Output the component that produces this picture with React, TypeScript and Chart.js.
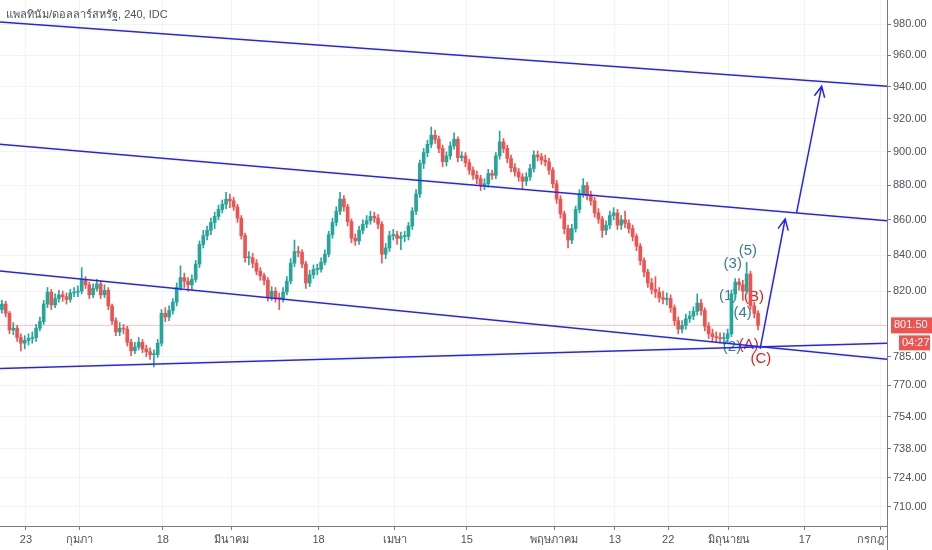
import React, { useEffect, useRef } from 'react';
import { Chart, registerables } from 'chart.js';

Chart.register(...registerables);

// 4h candles, two per trading day
const TITLE = 'แพลทินัม/ดอลลาร์สหรัฐ, 240, IDC';
const FIRST_OPEN = 810;
const FIRST_CANDLE_DAY = -3.17;
const CANDLE_STEP = 0.5;

const CLOSES = [
  813, 808, 799, 800, 795, 792, 793.5, 794.5, 795, 800,
  803.5, 813, 819.5, 812.5, 816, 818, 817, 815.5, 819, 819.5,
  820, 826.5, 823.5, 818, 821.5, 824, 818, 820.5, 812, 804,
  798, 800, 799.5, 792.5, 788, 790, 792.5, 789, 787.5, 786,
  786, 792, 808, 806, 809.5, 814, 822, 827.5, 825.5, 823.5,
  826.5, 835, 846, 851, 854, 858.5, 862, 866, 869, 872,
  871, 867.5, 861, 851, 838.5, 838.5, 835.5, 831, 828.5, 826,
  817, 820, 816.5, 816, 819.5, 825.5, 835.5, 842, 841.5, 835,
  824.5, 829, 832, 832, 836, 840.5, 851.5, 858.5, 865, 872,
  867.5, 859, 849.5, 848, 854, 857.5, 859.5, 862, 861, 857.5,
  840.5, 844, 851, 851.5, 849.5, 850.5, 850.5, 856.5, 865, 875,
  893, 899.5, 904.5, 910, 907.5, 902, 894, 897.5, 903.5, 907.5,
  896.5, 897.5, 893.5, 889, 886, 884, 880, 881, 887, 886,
  897.5, 906, 902, 896, 890.5, 888, 885, 882.5, 885, 890,
  898, 897, 895, 894, 889, 881, 872, 863.5, 855, 848.5,
  855, 866, 875, 880, 874, 871, 864, 860.5, 854, 857,
  862.5, 864, 857, 860, 858, 855, 850.5, 845, 837, 830.5,
  824.5, 821, 819.5, 816.5, 815.5, 816, 811, 804, 799.5, 801.5,
  805, 806.5, 809, 813.5, 809.5, 801, 797, 795.5, 795, 794.5,
  794.5, 797, 818.5, 825, 823.5, 820, 829.5, 812, 808, 801.5,
];

const HIGHS = [
  815, 814.5, 809, 803, 801.5, 797, 796, 797, 798, 802,
  806, 815, 822, 821, 818.5, 820.5, 820, 819, 821, 822,
  823, 833, 828, 825, 824, 826.5, 825.5, 823.5, 822, 813,
  805.5, 803, 802, 801, 794, 792.5, 795, 794, 791, 789.5,
  788.5, 794, 810, 811, 812, 816, 824.5, 834, 830, 827.5,
  829, 837, 848, 854, 856.5, 861, 864.5, 868.5, 871.5, 876,
  875, 873, 869, 862.5, 852.5, 842, 841, 837.5, 833, 830,
  827.5, 822.5, 822, 819, 822, 828, 838, 848.5, 845, 843,
  836.5, 831.5, 834.5, 835, 838.5, 843, 853.5, 861, 867.5, 876,
  874, 869, 860.5, 852, 856.5, 860, 862.5, 865, 864.5, 863,
  859, 846.5, 853.5, 854.5, 853.5, 853, 853.5, 858.5, 867, 877.5,
  895, 902, 907, 915, 913, 909.5, 904, 900, 906, 911.5,
  909, 900, 899.5, 895.5, 891, 888.5, 886, 884, 889.5, 889,
  899.5, 912.5, 908, 904, 898, 893, 890, 887, 887.5, 892.5,
  900.5, 900.5, 899, 898, 896, 890.5, 883, 874, 865, 857,
  857.5, 868, 877.5, 884, 882, 876.5, 873, 866.5, 862, 859.5,
  865, 867, 866, 862.5, 865, 860, 857, 852, 846.5, 838.5,
  832, 827, 828, 822, 820, 819, 818, 812.5, 806, 804,
  807.5, 809, 811.5, 818.5, 815.5, 811, 803, 799.5, 798, 797.5,
  797.5, 799.5, 820.5, 827, 827, 826, 836, 831, 814, 809.5,
];

const LOWS = [
  808, 806, 797, 796.5, 793, 788, 789, 791, 792, 793,
  798.5, 802, 811, 810, 811, 814, 814.5, 813, 814, 817,
  817, 818.5, 821.5, 816, 816.5, 820, 816, 816.5, 810, 802,
  796, 796, 797, 790.5, 785.5, 786.5, 788.5, 787, 785, 783.5,
  779.5, 784.5, 790.5, 803.5, 804, 807.5, 812, 820.5, 822, 820,
  821, 825, 833, 844, 848.5, 851.5, 855, 860, 864, 866.5,
  867, 865.5, 858.5, 849, 836, 834.5, 833, 829, 826, 823.5,
  814.5, 815, 814, 810, 814, 818, 824, 833.5, 839, 833,
  821.5, 822.5, 827, 829, 830.5, 834.5, 839, 849.5, 856.5, 863,
  865, 856.5, 847, 845.5, 846, 852, 855.5, 857.5, 858.5, 855,
  835.5, 838, 842, 848.5, 846, 843, 847.5, 848.5, 854.5, 863,
  873, 890, 897, 902.5, 905, 899.5, 891, 891.5, 895.5, 901.5,
  894, 894.5, 891, 886.5, 883.5, 881, 877, 877.5, 879, 883.5,
  884, 895.5, 899.5, 893.5, 888, 885.5, 882.5, 878, 880, 883,
  888, 894.5, 892.5, 891.5, 886.5, 878.5, 869.5, 861, 852, 844,
  846.5, 853, 864, 873, 871.5, 868.5, 861.5, 858, 850, 851.5,
  855, 860, 854.5, 854.5, 855.5, 852.5, 848, 842.5, 834.5, 828,
  822, 818.5, 816.5, 814, 813, 812.5, 808.5, 801.5, 797, 797.5,
  799.5, 803, 804.5, 807, 807, 798.5, 794.5, 793, 792.5, 792,
  791.5, 792, 795.5, 816, 820.5, 815, 818.5, 810, 805.5, 799,
];

// x axis in trading days from 23 Jan
const DATE_TICKS = [0, 7, 18, 27, 38.5, 48.5, 58, 69.5, 77.5, 84.5, 92.5, 102.5, 112.5];
const DATE_LABELS = ['23', 'กุมภา', '18', 'มีนาคม', '18', 'เมษา', '15', 'พฤษภาคม', '13', '22', 'มิถุนายน', '17', 'กรกฎาคม'];
const PRICE_TICKS = [710, 724, 738, 754, 770, 785, 820, 840, 860, 880, 900, 920, 940, 960, 980];
const X_MIN = -3.42;
const X_MAX = 113.3;
const Y_MIN = 701;
const Y_MAX = 996;

// trend lines: price at left edge, price at right edge
const CHANNEL_TOP = [981.5, 940.3];
const CHANNEL_MID = [904.6, 859.5];
const CHANNEL_LOW = [831.2, 783.5];
const SUPPORT = [778.7, 792];

const LAST_PRICE = 801.5;
const COUNTDOWN = '04:27';

// arrows: [day, price] from -> to
const ARROWS = [
  [[96.6, 789], [99.9, 860.5]],
  [[101.4, 864], [104.7, 940.3]],
];

// wave counts: [text, day, price]
const IMPULSE_LABELS: [string, number, number][] = [
  ['(1)', 92.4, 817.5],
  ['(2)', 92.9, 790],
  ['(3)', 93.0, 835],
  ['(4)', 94.3, 808],
  ['(5)', 95.0, 842.5],
];
const CORRECTION_LABELS: [string, number, number][] = [
  ['(A)', 95.1, 791],
  ['(B)', 95.8, 817],
  ['(C)', 96.7, 784],
];

const UP = '#26a69a';
const DOWN = '#ef5350';
const BLUE = '#2222ff';
const AXIS = '#787b86';
const TEXT = '#4c525e';
const GRID = '#f0f3fa';
const FONT = "'Liberation Sans', 'DejaVu Sans', sans-serif";

const App = () => {
  const canvasRef = useRef<HTMLCanvasElement | null>(null);

  useEffect(() => {
    document.body.style.margin = '0';
    const canvas = canvasRef.current;
    if (!canvas) return;
    const ctx = canvas.getContext('2d');
    if (!ctx) return;

    const opens = CLOSES.map((c, i) => (i === 0 ? FIRST_OPEN : CLOSES[i - 1]));
    const days = CLOSES.map((_, i) => FIRST_CANDLE_DAY + i * CANDLE_STEP);
    const colors = CLOSES.map((c, i) => (c >= opens[i] ? UP : DOWN));

    const trend = (p: number[]) => ({
      type: 'line' as const,
      data: [{ x: X_MIN, y: p[0] }, { x: X_MAX, y: p[1] }],
      borderColor: BLUE,
      borderWidth: 1.5,
      pointRadius: 0,
      fill: false,
      order: 0,
    });

    const overlay = {
      id: 'overlay',
      beforeDatasetsDraw(chart: any) {
        const { ctx: c, scales } = chart;
        c.save();
        c.font = `15px ${FONT}`;
        c.textAlign = 'center';
        c.textBaseline = 'middle';
        const put = (list: [string, number, number][], color: string) => {
          c.fillStyle = color;
          list.forEach(([t, d, p]) => {
            c.fillText(t, scales.x.getPixelForValue(d), scales.y.getPixelForValue(p));
          });
        };
        put(IMPULSE_LABELS, '#3b7d8c');
        put(CORRECTION_LABELS, '#d9211c');
        c.restore();
      },
      afterDatasetsDraw(chart: any) {
        const { ctx: c, scales, chartArea } = chart;
        c.save();
        c.beginPath();
        c.rect(chartArea.left, chartArea.top, chartArea.right - chartArea.left, chartArea.bottom - chartArea.top);
        c.clip();
        c.strokeStyle = BLUE;
        c.lineWidth = 1.5;
        ARROWS.forEach(([a, b]) => {
          const x1 = scales.x.getPixelForValue(a[0]);
          const y1 = scales.y.getPixelForValue(a[1]);
          const x2 = scales.x.getPixelForValue(b[0]);
          const y2 = scales.y.getPixelForValue(b[1]);
          const ang = Math.atan2(y2 - y1, x2 - x1);
          const len = 12;
          const spread = 0.45;
          c.beginPath();
          c.moveTo(x1, y1);
          c.lineTo(x2, y2);
          c.moveTo(x2 - len * Math.cos(ang - spread), y2 - len * Math.sin(ang - spread));
          c.lineTo(x2, y2);
          c.lineTo(x2 - len * Math.cos(ang + spread), y2 - len * Math.sin(ang + spread));
          c.stroke();
        });
        c.restore();
      },
      afterDraw(chart: any) {
        const { ctx: c, scales, chartArea, width, height } = chart;
        c.save();
        // price scale panel hides the overflowing date label
        c.fillStyle = '#ffffff';
        c.fillRect(chartArea.right + 1, chartArea.bottom + 1, width - chartArea.right, height - chartArea.bottom);
        c.strokeStyle = AXIS;
        c.lineWidth = 1;
        c.beginPath();
        c.moveTo(Math.round(chartArea.right) + 0.5, 0);
        c.lineTo(Math.round(chartArea.right) + 0.5, height);
        c.stroke();

        // title
        c.font = `11px ${FONT}`;
        c.fillStyle = TEXT;
        c.textAlign = 'left';
        c.textBaseline = 'middle';
        c.fillText(TITLE, 6, 15);

        // last price and countdown
        const py = scales.y.getPixelForValue(LAST_PRICE);
        c.fillStyle = DOWN;
        c.fillRect(chartArea.right + 4, py - 8, width - chartArea.right - 4, 16);
        c.fillRect(chartArea.right + 12, py + 10, width - chartArea.right - 14, 15);
        c.fillStyle = '#ffffff';
        c.font = `11px ${FONT}`;
        c.fillText(LAST_PRICE.toFixed(2), chartArea.right + 7, py);
        c.fillText(COUNTDOWN, chartArea.right + 15, py + 17.5);
        c.restore();
      },
    };

    const chart = new Chart(ctx, {
      type: 'bar',
      data: {
        datasets: [
          trend(CHANNEL_TOP),
          trend(CHANNEL_MID),
          trend(CHANNEL_LOW),
          trend(SUPPORT),
          {
            type: 'bar',
            data: days.map((d, i) => ({ x: d, y: [opens[i], CLOSES[i]] })),
            backgroundColor: colors,
            borderWidth: 0,
            barThickness: 3,
            minBarLength: 1,
            grouped: false,
            order: 1,
          },
          {
            type: 'bar',
            data: days.map((d, i) => ({ x: d, y: [LOWS[i], HIGHS[i]] })),
            backgroundColor: colors,
            borderWidth: 0,
            barThickness: 1,
            grouped: false,
            order: 2,
          },
          {
            type: 'line',
            data: [{ x: X_MIN, y: LAST_PRICE }, { x: X_MAX, y: LAST_PRICE }],
            borderColor: 'rgba(239, 83, 80, 0.35)',
            borderWidth: 1,
            pointRadius: 0,
            order: 3,
          },
        ] as any,
      },
      options: {
        animation: false,
        responsive: true,
        maintainAspectRatio: false,
        events: [],
        layout: { padding: 0 },
        plugins: {
          legend: { display: false },
          tooltip: { enabled: false },
        },
        scales: {
          x: {
            type: 'linear',
            min: X_MIN,
            max: X_MAX,
            offset: false,
            afterBuildTicks: (axis: any) => {
              axis.ticks = DATE_TICKS.map((v) => ({ value: v }));
            },
            afterFit: (axis: any) => {
              axis.height = 24;
              axis.paddingLeft = 0;
              axis.paddingRight = 0;
            },
            grid: { color: GRID, tickColor: AXIS, tickLength: 4, offset: false },
            border: { color: AXIS },
            ticks: {
              autoSkip: false,
              maxRotation: 0,
              padding: 3,
              color: TEXT,
              font: { size: 11, family: FONT },
              callback: (_v: any, i: number) => DATE_LABELS[i],
            },
          },
          y: {
            type: 'logarithmic',
            position: 'right',
            min: Y_MIN,
            max: Y_MAX,
            afterBuildTicks: (axis: any) => {
              axis.ticks = PRICE_TICKS.map((v) => ({ value: v }));
            },
            afterFit: (axis: any) => {
              axis.width = 45;
              axis.paddingTop = 0;
              axis.paddingBottom = 0;
            },
            grid: { color: GRID, tickColor: AXIS, tickLength: 4 },
            border: { color: AXIS },
            ticks: {
              padding: 2,
              color: TEXT,
              font: { size: 11, family: FONT },
              callback: (v: any) => Number(v).toFixed(2),
            },
          },
        },
      } as any,
      plugins: [overlay],
    });

    return () => {
      chart.destroy();
    };
  }, []);

  return (
    <div style={{ position: 'relative', width: 932, height: 550 }}>
      <canvas ref={canvasRef} />
    </div>
  );
};

export default App;
